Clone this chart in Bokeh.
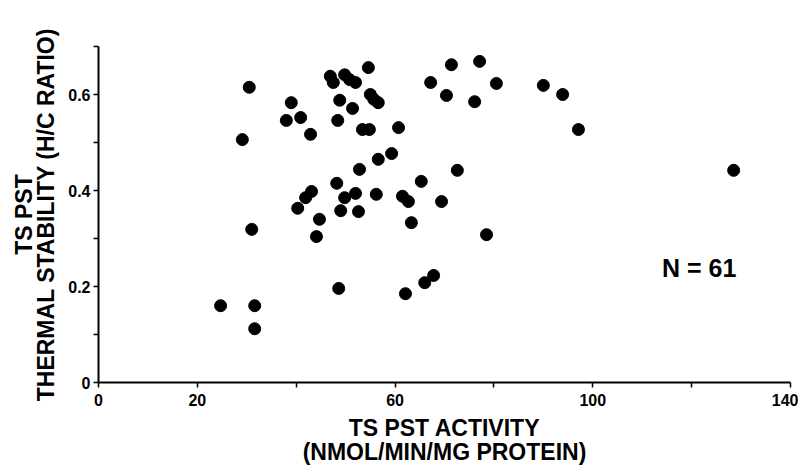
from bokeh.plotting import figure
from bokeh.models import Range1d, FixedTicker, Label, ColumnDataSource
from bokeh.embed import file_html
from bokeh.resources import INLINE

# TS PST activity (nmol/min/mg protein)
activity = [30.5, 29.1, 39.0, 38.0, 40.9, 42.9, 46.9, 47.5, 49.8, 50.8,
            52.0, 54.6, 48.8, 51.4, 48.4, 55.0, 55.7, 56.6, 53.4, 54.8,
            60.7, 59.3, 56.6, 52.8, 48.2, 43.1, 41.9, 49.8, 52.0, 56.2,
            61.5, 62.7, 65.3, 40.3, 44.7, 44.1, 49.0, 52.6, 63.3, 31.0,
            24.7, 31.6, 31.6, 48.6, 62.1, 66.0, 67.8, 69.4, 72.6, 78.5,
            71.4, 77.1, 67.2, 70.4, 76.1, 80.5, 90.0, 93.9, 97.1, 128.5]
# Thermal stability (H/C ratio)
stability = [0.615, 0.506, 0.583, 0.546, 0.552, 0.517, 0.638, 0.625, 0.641, 0.631,
             0.625, 0.656, 0.588, 0.571, 0.546, 0.600, 0.590, 0.583, 0.527, 0.527,
             0.531, 0.477, 0.465, 0.444, 0.415, 0.398, 0.385, 0.385, 0.394, 0.392,
             0.388, 0.377, 0.419, 0.363, 0.340, 0.304, 0.358, 0.356, 0.333, 0.319,
             0.160, 0.160, 0.112, 0.196, 0.185, 0.208, 0.223, 0.377, 0.442, 0.308,
             0.662, 0.669, 0.625, 0.598, 0.585, 0.623, 0.619, 0.600, 0.527, 0.442]

x_ticks = [0, 20, 40, 60, 80, 100, 120, 140]
x_labels = {0: "0", 20: "20", 40: "", 60: "60", 80: "", 100: "100", 120: "", 140: "140"}
y_ticks = [0, 0.1, 0.2, 0.3, 0.4, 0.5, 0.6, 0.7]
y_labels = {0: "0", 0.1: "", 0.2: "0.2", 0.3: "", 0.4: "0.4", 0.5: "", 0.6: "0.6", 0.7: ""}

FONT = "Liberation Sans"

p = figure(frame_width=692, frame_height=336, output_backend="svg", toolbar_location=None,
           x_range=Range1d(0, 140), y_range=Range1d(0, 0.7),
           min_border_left=98, min_border_right=8, min_border_top=46, min_border_bottom=76)
p.outline_line_color = None
p.grid.grid_line_color = None
p.background_fill_color = "white"

src = ColumnDataSource(dict(x=activity, y=stability))
p.scatter("x", "y", source=src, size=12, fill_color="black", line_color="black")

for ax in (p.xaxis[0], p.yaxis[0]):
    ax.axis_line_width = 2
    ax.axis_line_color = "black"
    ax.major_tick_line_width = 1.5
    ax.major_tick_line_color = "black"
    ax.major_tick_in = 0
    ax.major_tick_out = 5
    ax.minor_tick_line_color = None
    ax.major_label_text_font = FONT
    ax.major_label_text_font_style = "bold"
    ax.major_label_text_font_size = "16px"
    ax.major_label_text_color = "black"
    ax.axis_label_text_font = FONT
    ax.axis_label_text_font_style = "bold"
    ax.axis_label_text_font_size = "23px"
    ax.axis_label_text_color = "black"

p.xaxis.ticker = FixedTicker(ticks=x_ticks)
p.xaxis.major_label_overrides = x_labels
p.xaxis.axis_label = "TS PST ACTIVITY\n(NMOL/MIN/MG PROTEIN)"
p.xaxis.major_label_standoff = 6
p.xaxis.axis_label_standoff = 6
p.xaxis.axis_label_text_line_height = 0.93

p.yaxis.ticker = FixedTicker(ticks=y_ticks)
p.yaxis.major_label_overrides = y_labels
p.yaxis.axis_label = "TS PST\nTHERMAL STABILITY (H/C RATIO)"
p.yaxis.major_label_standoff = 3
p.yaxis.axis_label_standoff = 6
p.yaxis.axis_label_text_line_height = 0.87

p.add_layout(Label(x=114, y=0.21, text="N = 61", text_font=FONT, text_font_style="bold",
                   text_font_size="25px", text_color="black"))

open("out.html", "w").write(file_html(p, INLINE))
